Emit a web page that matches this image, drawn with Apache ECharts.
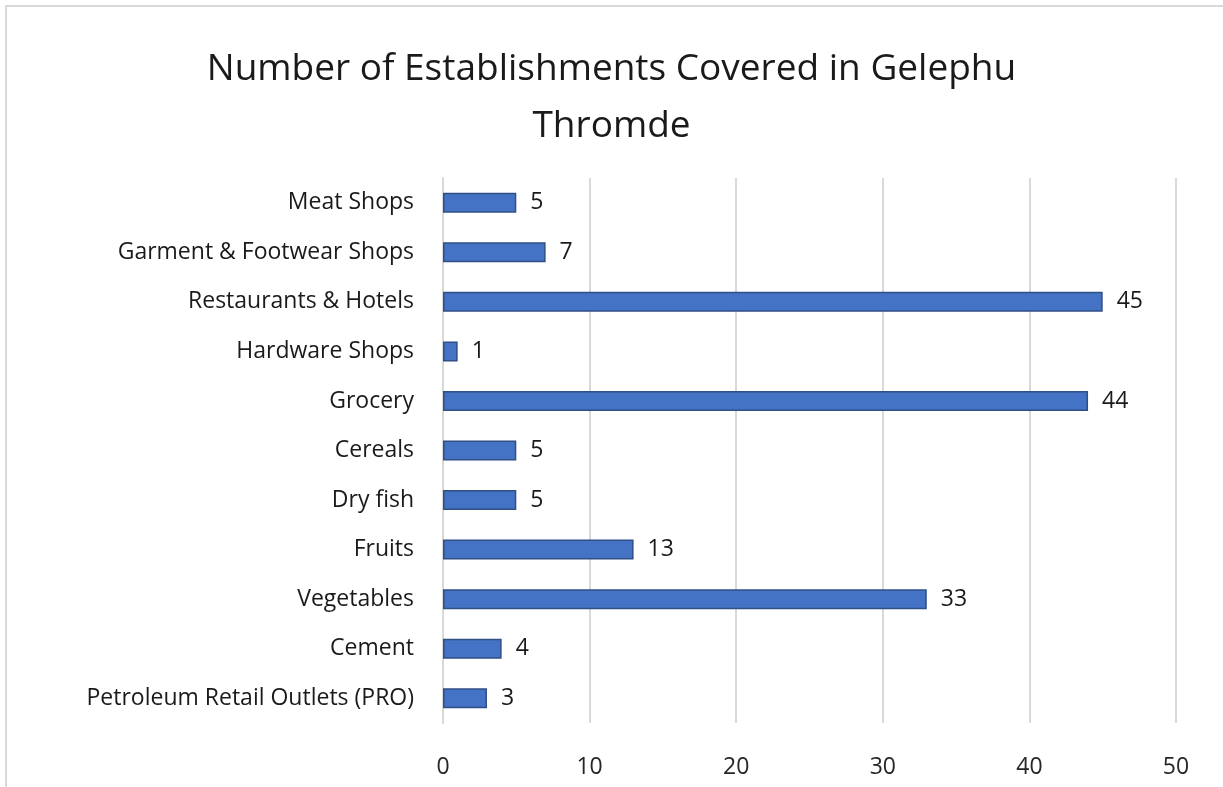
<!DOCTYPE html>
<html>
<head>
<meta charset="utf-8">
<script src="https://cdn.jsdelivr.net/npm/echarts@6/dist/echarts.min.js"></script>
<style>
	html, body { margin: 0; padding: 0; background: #fff; }
	#main { width: 1223px; height: 787px; }
</style>
</head>
<body>
<div id="main"></div>
<script>
// categories listed top to bottom as in the picture
const categories = [
	'Meat Shops',
	'Garment & Footwear Shops',
	'Restaurants & Hotels',
	'Hardware Shops',
	'Grocery',
	'Cereals',
	'Dry fish',
	'Fruits',
	'Vegetables',
	'Cement',
	'Petroleum Retail Outlets (PRO)'
]
const counts = [5, 7, 45, 1, 44, 5, 5, 13, 33, 4, 3]
const xTicks = [0, 10, 20, 30, 40, 50]

const myChart = echarts.init(document.getElementById('main'))

myChart.setOption({
	animation: false,
	textStyle: { fontFamily: 'Open Sans' },
	title: {
		text: 'Number of Establishments Covered in Gelephu\nThromde',
		left: 'center',
		top: 36,
		textStyle: {
			fontFamily: 'Open Sans',
			fontWeight: 'normal',
			fontSize: 37,
			lineHeight: 57,
			color: '#1a1a1a'
		}
	},
	graphic: [
		{
			type: 'rect',
			shape: { x: 6, y: 6, width: 1300, height: 900 },
			style: { fill: 'none', stroke: '#d9d9d9', lineWidth: 2 }
		}
	],
	grid: {
		left: 443,
		right: 47,
		top: 178,
		bottom: 64
	},
	xAxis: {
		type: 'value',
		min: xTicks[0],
		max: xTicks[xTicks.length - 1],
		interval: 10,
		axisLine: { show: false },
		axisTick: { show: false },
		axisLabel: { fontSize: 23, color: '#262626', margin: 33 },
		splitLine: { lineStyle: { color: '#d9d9d9', width: 2 } }
	},
	yAxis: {
		type: 'category',
		inverse: true,
		data: categories,
		axisLine: { show: true, lineStyle: { color: '#d9d9d9', width: 2 } },
		axisTick: { show: false },
		axisLabel: { fontSize: 23, color: '#1a1a1a', margin: 29 }
	},
	series: [
		{
			name: 'Establishments',
			type: 'bar',
			data: counts,
			barWidth: 20,
			itemStyle: {
				color: '#4472C4',
				borderColor: '#2F4F86',
				borderWidth: 1.5
			},
			label: {
				show: true,
				position: 'right',
				distance: 14,
				fontSize: 23,
				color: '#1a1a1a'
			}
		}
	]
})
</script>
</body>
</html>
